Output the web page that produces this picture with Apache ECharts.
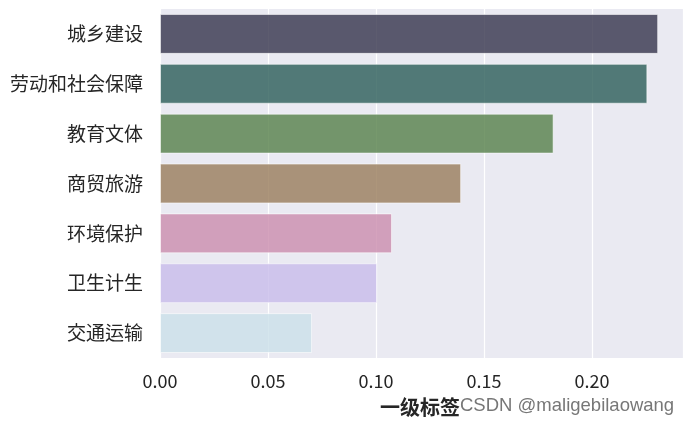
<!DOCTYPE html>
<html><head><meta charset="utf-8">
<script src="https://cdn.jsdelivr.net/npm/echarts@6/dist/echarts.min.js"></script>
<style>html,body{margin:0;padding:0;background:#fff}#c{width:691px;height:423px}</style>
</head><body><div id="c"></div>
<script>
const categories = ['城乡建设','劳动和社会保障','教育文体','商贸旅游','环境保护','卫生计生','交通运输'];
const values = [0.2306, 0.2256, 0.1822, 0.1394, 0.1074, 0.1005, 0.0704];
const colors = ['rgba(52,51,75,0.8)','rgba(42,93,88,0.8)','rgba(85,127,73,0.8)','rgba(152,124,90,0.8)','rgba(202,140,172,0.8)','rgba(200,187,234,0.8)','rgba(202,224,232,0.8)'];
const xTicks = [0, 0.05, 0.10, 0.15, 0.20];
const font = '"Noto Sans CJK JP","Noto Sans CJK SC",sans-serif';
const chart = echarts.init(document.getElementById('c'));
chart.setOption({
  animation:false,
  grid:{left:160,right:8,top:9,bottom:65,containLabel:false,backgroundColor:'#eaeaf2',show:true,borderWidth:0},
  xAxis:{type:'value',min:0,max:0.2421,interval:0.05,
    axisLine:{show:false},axisTick:{show:false},
    splitLine:{show:true,lineStyle:{color:'#ffffff',width:1.2}},
    axisLabel:{color:'#262626',fontSize:18,fontFamily:font,margin:14,
      formatter:v=>{const t=xTicks.find(x=>Math.abs(x-v)<1e-9);return t===undefined?'':t.toFixed(2);},
      showMaxLabel:false}},
  yAxis:{type:'category',data:categories,inverse:true,
    axisLine:{show:false},axisTick:{show:false},splitLine:{show:false},
    axisLabel:{color:'#262626',fontSize:19,fontFamily:font,margin:17}},
  series:[{type:'bar',data:values.map((v,i)=>({value:v,itemStyle:{color:colors[i]}})),
    barCategoryGap:'20%',
    itemStyle:{borderColor:'rgba(255,255,255,0.55)',borderWidth:1}}],
  graphic:[
    {type:'text',x:420,y:407,style:{text:'一级标签',fill:'#262626',align:'center',verticalAlign:'middle',font:'bold 20px "Noto Sans CJK JP",sans-serif'}},
    {type:'text',x:460,y:406,style:{text:'CSDN @maligebilaowang',fill:'#777',align:'left',verticalAlign:'middle',font:'18.5px "Liberation Sans",sans-serif'}}
  ]
});
</script></body></html>
